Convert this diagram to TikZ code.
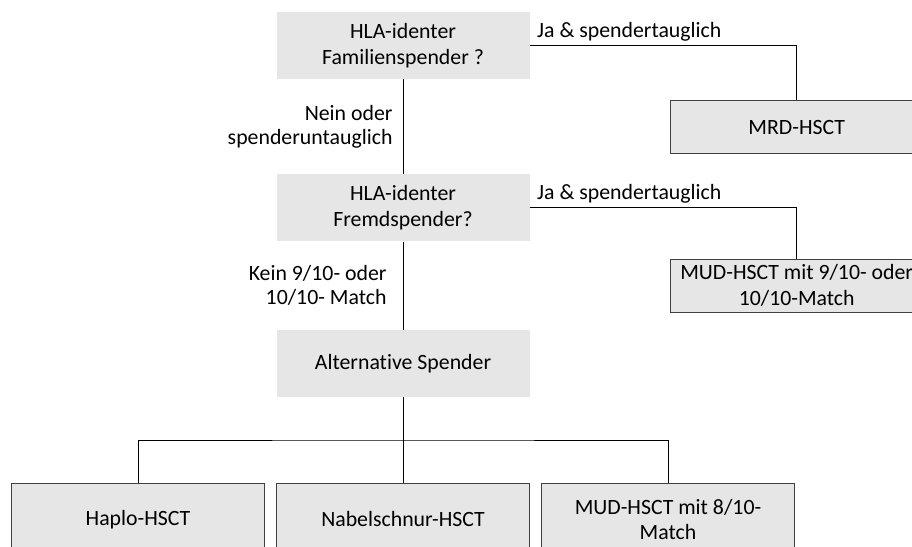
\documentclass[tikz,border=0pt]{standalone}
\usepackage{fontspec}
\setmainfont{Carlito}[Ligatures=NoCommon]
\usepackage{tikz}
\usetikzlibrary{positioning, calc}
\definecolor{boxfill}{HTML}{E7E6E6}
\definecolor{boxborder}{HTML}{404040}
\tikzset{
question/.style={
fill=boxfill,
minimum height=67pt,
minimum width=253pt,
align=center,
inner sep=2pt
},
result/.style={
draw=boxborder,
fill=boxfill,
line width=1pt,
minimum height=53pt,
minimum width=253pt,
align=center,
inner sep=2pt
},
option/.style={
result,
minimum height=72pt
},
link/.style={
line width=1pt,
draw=black
},
edgelabel/.style={
inner sep=0pt,
align=right,
font=\fontsize{21.8}{23.5}\selectfont
}
}

\begin{document}
\begin{tikzpicture}[
x=1pt, y=1pt,
font=\fontsize{21.8}{25.5}\selectfont,
node distance=11pt,
every node/.style={align=center}
]

\useasboundingbox (0,0) rectangle (912,-546);

\node[question] (fam) at (403,-45.5) {HLA-identer\\Familienspender ?};
\node[question, below=95pt of fam] (fremd) {HLA-identer\\Fremdspender?};
\node[question, below=88pt of fremd] (alt) {Alternative Spender};

\node[result, below right=21pt and 140pt of fam] (mrd) {MRD-HSCT};
\node[result, below right=17pt and 140pt of fremd] (mud9) {MUD-HSCT mit 9/10- oder\\10/10-Match};

\node[option, below=86pt of alt] (nabel) {Nabelschnur-HSCT};
\node[option, left=11pt of nabel] (haplo) {Haplo-HSCT};
\node[option, right=11pt of nabel] (mud8) {MUD-HSCT mit 8/10-\\Match};

\draw[link] (fam.east) --
  node[edgelabel, pos=0, anchor=base west, xshift=7pt, yshift=8pt] {Ja \& spendertauglich}
  (fam.east -| mrd.north) -- (mrd.north);
\draw[link] (fremd.east) --
  node[edgelabel, pos=0, anchor=base west, xshift=7pt, yshift=8pt] {Ja \& spendertauglich}
  (fremd.east -| mud9.north) -- (mud9.north);

\draw[link] (fam) --
  node[edgelabel, left=10pt] {Nein oder\\spenderuntauglich} (fremd);
\draw[link] (fremd) --
  node[edgelabel, left=16pt] {Kein 9/10- oder\\10/10- Match} (alt);

\coordinate (split) at ($(alt.south)!0.5!(nabel.north)$);
\draw[link] (alt) -- (nabel);
\draw[link] (haplo.north) |- (split) -| (mud8.north);

\end{tikzpicture}
\end{document}
